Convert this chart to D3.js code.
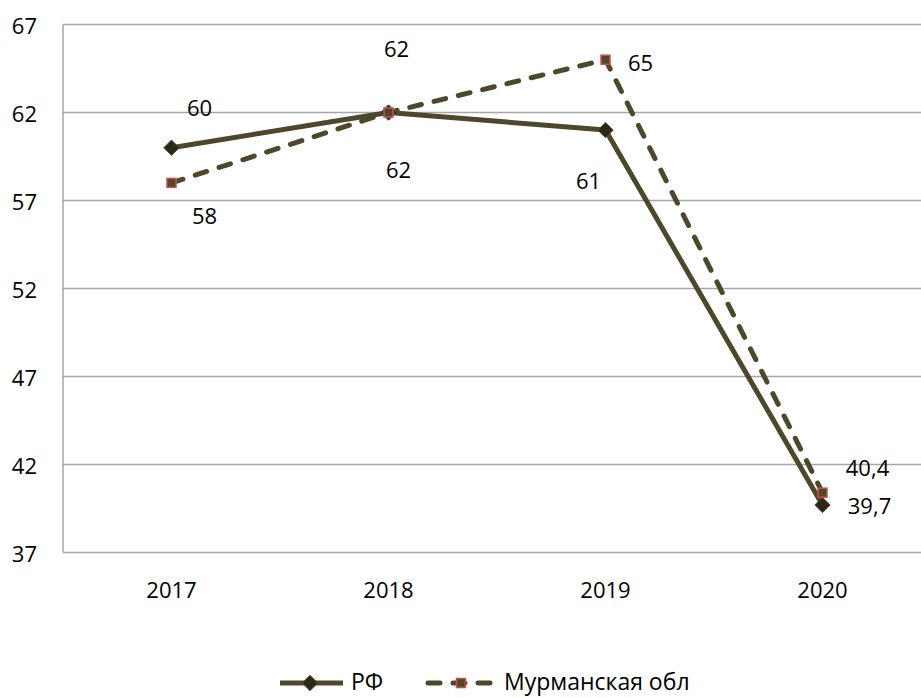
<!DOCTYPE html>
<html>
<head>
<meta charset="utf-8">
<script src="https://cdn.jsdelivr.net/npm/d3@7"></script>
<style>
  html, body { margin: 0; padding: 0; background: #fff; }
  svg { display: block; font-family: "Open Sans", "Noto Sans", sans-serif; }
</style>
</head>
<body>
<svg id="chart" width="921" height="698"></svg>
<script>
// Years on the horizontal axis
const years = ["2017", "2018", "2019", "2020"];
// Values per series
const rfValues = [60, 62, 61, 39.7];
const murmanskValues = [58, 62, 65, 40.4];
// Series names
const seriesNames = ["РФ", "Мурманская обл"];
// Y-axis tick values
const yTicks = [37, 42, 47, 52, 57, 62, 67];

// Label placement offsets (dx, dy) relative to each point
const rfLabelOffsets = [[28, -41], [10, 56], [-17, 50], [47, 0]];
const murLabelOffsets = [[33, 32], [8, -65], [35, 2], [45, -26]];

const W = 921, H = 698;
const plot = { left: 63, right: 931, top: 24.5, bottom: 552.5 };
const lineColor = "#4d472c";
const markerDark = "#2c2818";
const squareStroke = "#c9514f";
const gridColor = "#a6a6a6";
const fontSize = 22;
const fmt = v => String(v).replace(".", ",");

const svg = d3.select("#chart");

const x = d3.scalePoint().domain(years).range([plot.left, plot.right]).padding(0.5);
const y = d3.scaleLinear().domain([37, 67]).range([plot.bottom, plot.top]);

// Horizontal gridlines
svg.append("g").selectAll("line").data(yTicks).join("line")
  .attr("x1", plot.left).attr("x2", W)
  .attr("y1", d => y(d)).attr("y2", d => y(d))
  .attr("stroke", gridColor).attr("stroke-width", 1.5);

// Vertical axis line
svg.append("line")
  .attr("x1", plot.left).attr("x2", plot.left)
  .attr("y1", y(67)).attr("y2", y(37))
  .attr("stroke", gridColor).attr("stroke-width", 1.5);

// Y tick labels
svg.append("g").selectAll("text").data(yTicks).join("text")
  .attr("x", 37).attr("y", d => y(d))
  .attr("text-anchor", "end").attr("dominant-baseline", "central")
  .attr("font-size", fontSize).attr("fill", "#000")
  .text(d => d);

// X tick labels
svg.append("g").selectAll("text").data(years).join("text")
  .attr("x", d => x(d)).attr("y", 589)
  .attr("text-anchor", "middle").attr("dominant-baseline", "central")
  .attr("font-size", fontSize).attr("fill", "#000")
  .text(d => d);

const line = d3.line().x(d => x(d.year)).y(d => y(d.value));
const rfData = years.map((yr, i) => ({ year: yr, value: rfValues[i] }));
const murData = years.map((yr, i) => ({ year: yr, value: murmanskValues[i] }));

// РФ solid line
svg.append("path").datum(rfData)
  .attr("d", line).attr("fill", "none")
  .attr("stroke", lineColor).attr("stroke-width", 5)
  .attr("stroke-linejoin", "round");

// Мурманская обл dashed line
svg.append("path").datum(murData)
  .attr("d", line).attr("fill", "none")
  .attr("stroke", lineColor).attr("stroke-width", 5)
  .attr("stroke-dasharray", "12,13").attr("stroke-linecap", "round")
  .attr("stroke-linejoin", "round");

// Markers
const diamond = d3.symbol().type(d3.symbolDiamond2).size(150);
function drawDiamond(g, cx, cy) {
  g.append("path").attr("d", diamond())
    .attr("transform", `translate(${cx},${cy})`)
    .attr("fill", markerDark).attr("stroke", lineColor).attr("stroke-width", 1);
}
function drawSquare(g, cx, cy) {
  g.append("rect").attr("x", cx - 4.5).attr("y", cy - 4.5)
    .attr("width", 9).attr("height", 9)
    .attr("fill", lineColor).attr("stroke", squareStroke).attr("stroke-width", 1.5);
}

const markers = svg.append("g");
rfData.forEach(d => drawDiamond(markers, x(d.year), y(d.value)));
murData.forEach(d => drawSquare(markers, x(d.year), y(d.value)));

// Value labels
const labels = svg.append("g").attr("font-size", fontSize).attr("fill", "#000");
rfData.forEach((d, i) => {
  labels.append("text")
    .attr("x", x(d.year) + rfLabelOffsets[i][0]).attr("y", y(d.value) + rfLabelOffsets[i][1])
    .attr("text-anchor", "middle").attr("dominant-baseline", "central")
    .text(fmt(d.value));
});
murData.forEach((d, i) => {
  labels.append("text")
    .attr("x", x(d.year) + murLabelOffsets[i][0]).attr("y", y(d.value) + murLabelOffsets[i][1])
    .attr("text-anchor", "middle").attr("dominant-baseline", "central")
    .text(fmt(d.value));
});

// Legend
const legend = svg.append("g");
const ly = 683;
const legendBaseline = 690;
legend.append("line").attr("x1", 280).attr("x2", 343).attr("y1", ly).attr("y2", ly)
  .attr("stroke", lineColor).attr("stroke-width", 5);
drawDiamond(legend, 310, ly);
legend.append("text").attr("x", 351).attr("y", legendBaseline)
  .attr("font-size", 23).text(seriesNames[0]);

legend.append("line").attr("x1", 428).attr("x2", 490).attr("y1", ly).attr("y2", ly)
  .attr("stroke", lineColor).attr("stroke-width", 5)
  .attr("stroke-dasharray", "12,13").attr("stroke-linecap", "round");
drawSquare(legend, 461, ly);
legend.append("text").attr("x", 504).attr("y", legendBaseline)
  .attr("font-size", 23).text(seriesNames[1]);
</script>
</body>
</html>
